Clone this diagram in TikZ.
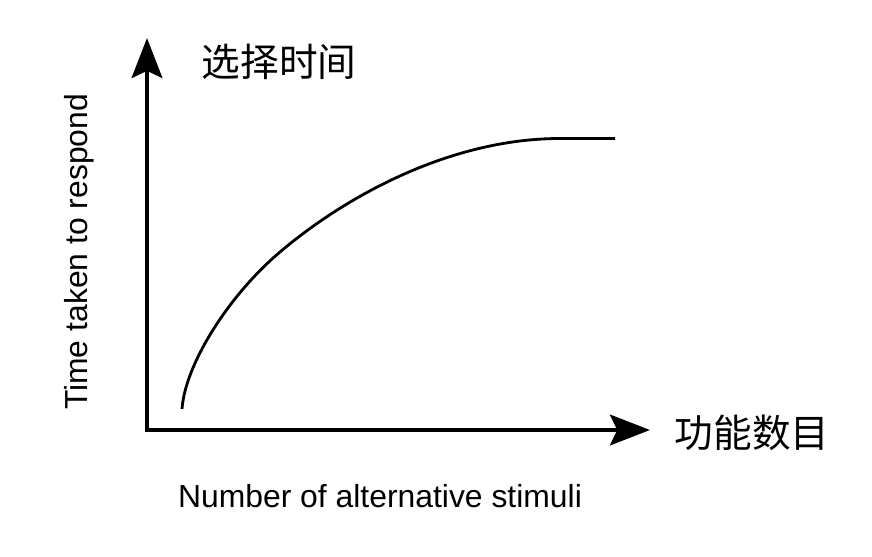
\documentclass[tikz,border=0pt]{standalone}
\usepackage{fontspec}
\setmainfont{Liberation Sans}
\newfontfamily\cjk{Noto Sans CJK SC}
\usetikzlibrary{arrows.meta}

\tikzset{
  axisline/.style={line width=4.2pt,-{Stealth[length=34pt,width=26pt,inset=6pt]}},
  curveline/.style={line width=2.4pt},
  cjklabel/.style={font=\cjk\fontsize{33}{36}\selectfont,inner sep=0pt},
  enlabel/.style={font=\fontsize{27.2}{30}\selectfont,inner sep=0pt}
}

\begin{document}
\begin{tikzpicture}[x=0.03cm,y=-0.03cm]
  \useasboundingbox (0,0) rectangle (872,556);

  \coordinate (O) at (147,430);
  \coordinate (ytip) at (147,38);
  \coordinate (xtip) at (650,430);

  \draw[axisline] (147,432.1) -- (ytip);
  \draw[axisline] (145,430) -- (xtip);

  % response time curve
  \draw[curveline] (182,409) .. controls (185,365) and (228,296) .. (280,252)
    .. controls (345,196.75) and (450,138.5) .. (560,138.5) -- (615,138.5);

  \node[cjklabel] (ylab) at (279,62) {选择时间};
  \node[cjklabel] (xlab) at (752,433) {功能数目};
  \node[enlabel,rotate=90] (yname) at (79,252) {Time taken to respond};
  \node[enlabel] (xname) at (380,496) {Number of alternative stimuli};
\end{tikzpicture}
\end{document}
